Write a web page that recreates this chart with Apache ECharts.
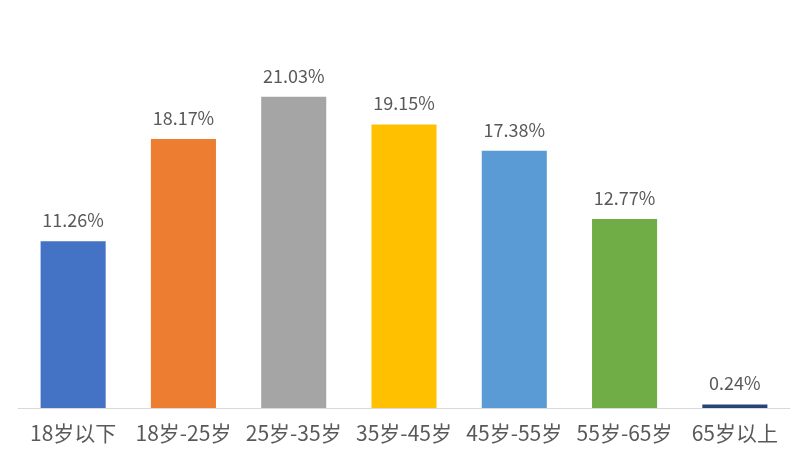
<!DOCTYPE html>
<html><head><meta charset="utf-8">
<script src="https://cdn.jsdelivr.net/npm/echarts@6/dist/echarts.min.js"></script>
<style>html,body{margin:0;padding:0;background:#fff}#c{width:800px;height:460px}</style>
</head><body><div id="c"></div>
<script>
const categories = ['18岁以下','18岁-25岁','25岁-35岁','35岁-45岁','45岁-55岁','55岁-65岁','65岁以上'];
const values = [11.26, 18.17, 21.03, 19.15, 17.38, 12.77, 0.24];
const colors = ['#4472C4','#ED7D31','#A5A5A5','#FFC000','#5B9BD5','#70AD47','#264478'];
const font = '"Microsoft YaHei","Noto Sans CJK SC",sans-serif';
const chart = echarts.init(document.getElementById('c'));
chart.setOption({
  animation:false,
  grid:{left:18,right:10,top:38,bottom:52,containLabel:false},
  xAxis:{type:'category',data:categories,
    axisLine:{lineStyle:{color:'#D9D9D9',width:1}},axisTick:{show:false},
    axisLabel:{color:'#595959',fontSize:21,fontFamily:font,margin:15,interval:0}},
  yAxis:{type:'value',min:0,max:25,show:false,splitLine:{show:false}},
  series:[{type:'bar',barCategoryGap:'41%',
    data:values.map((v,i)=>({value:v,itemStyle:{color:colors[i]}})),
    label:{show:true,position:'top',distance:12,color:'#595959',fontSize:18,fontFamily:font,
      formatter:p=>p.value.toFixed(2)+'%'}}]
});
</script></body></html>
